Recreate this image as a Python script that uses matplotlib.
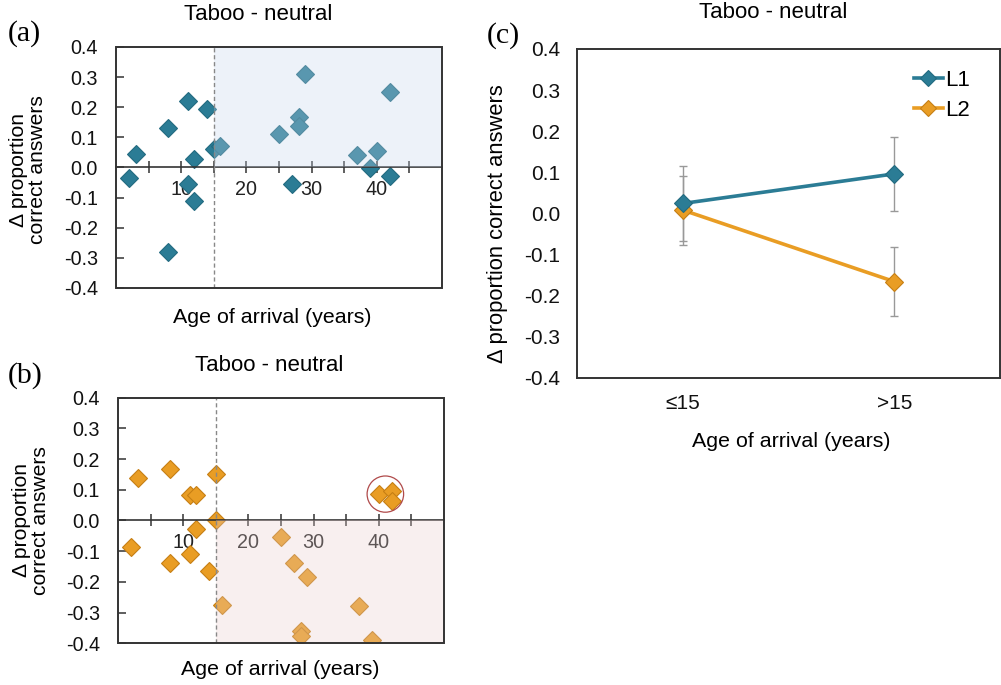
import numpy as np
import matplotlib
matplotlib.use("Agg")
import matplotlib.pyplot as plt
from matplotlib.patches import Rectangle, Ellipse

plt.rcParams["font.family"] = ["Liberation Sans", "DejaVu Sans"]

# ---------------------------------------------------------------------------
# data
# ---------------------------------------------------------------------------
# (a) L1 speakers: age of arrival vs taboo - neutral difference
AGE_A = [2, 3, 8, 8, 11, 11, 12, 12, 14, 15, 16, 25, 27, 28, 28, 29, 37, 39, 40, 42, 42]
DIFF_A = [-0.036, 0.045, 0.13, -0.28, 0.222, -0.056, 0.028, -0.111, 0.194, 0.06,
          0.071, 0.111, -0.056, 0.167, 0.138, 0.31, 0.041, -0.003, 0.055, 0.25, -0.027]

# (b) L2 speakers
AGE_B = [2, 3, 8, 8, 11, 12, 11, 12, 14, 15, 15, 16, 25, 27, 29, 28, 28, 37, 39, 40, 42, 42]
DIFF_B = [-0.085, 0.14, 0.167, -0.138, 0.084, 0.084, -0.11, -0.027, -0.165, 0.15,
          0.0, -0.276, -0.053, -0.137, -0.184, -0.36, -0.375, -0.277, -0.39, 0.086, 0.095, 0.065]

# (c) group means with error bars
GROUPS = ["\u226415", ">15"]
L1_MEAN = [0.024, 0.096]
L1_ERR = [0.091, 0.091]
L2_MEAN = [0.008, -0.166]
L2_ERR = [0.084, 0.083]

CUTOFF = 15
Y_TICKS = [-0.4, -0.3, -0.2, -0.1, 0.0, 0.1, 0.2, 0.3, 0.4]
CIRCLE_CENTER = (41, 0.086)

TEAL = "#2b7c95"
TEAL_EDGE = "#236b80"
ORANGE = "#e99d24"
ORANGE_EDGE = "#c67f14"
SPINE = "#333333"

TITLE = "Taboo - neutral"
XLABEL = "Age of arrival (years)"

fig = plt.figure(figsize=(10.01, 6.85), dpi=100)


def scatter_panel(ax, ages, diffs, face, edge, shade_color, shade_y):
    ax.set_xlim(0, 50)
    ax.set_ylim(-0.4, 0.4)
    ax.plot(ages, diffs, linestyle="none", marker="D", ms=9.5,
            mfc=face, mec=edge, mew=0.8, zorder=2)
    # translucent highlight drawn on top of the markers
    ax.fill_between([CUTOFF, 50], shade_y[0], shade_y[1], color=shade_color,
                    alpha=0.3, lw=0, zorder=3)
    ax.axvline(CUTOFF, color="#888888", lw=1, ls=(0, (3, 2)), zorder=4)

    # x axis crosses at zero, frame drawn as a box
    ax.spines["bottom"].set_position(("data", 0))
    for s in ["left", "top", "right"]:
        ax.spines[s].set_visible(False)
    ax.spines["bottom"].set_color(SPINE)
    ax.spines["bottom"].set_linewidth(1.2)
    ax.add_patch(Rectangle((0, 0), 1, 1, transform=ax.transAxes, fill=False,
                           ec=SPINE, lw=1.4, zorder=5, clip_on=False))

    ax.set_xticks(np.arange(5, 50, 5))
    ax.set_xticklabels(["" if v % 10 else str(v) for v in range(5, 50, 5)])
    ax.tick_params(axis="x", direction="inout", length=8, width=1.1,
                   colors=SPINE, labelsize=14.2, pad=5, labelcolor="#222222")
    ax.set_yticks(Y_TICKS)
    ax.set_yticklabels([f"{v:.1f}" for v in Y_TICKS])
    ax.tick_params(axis="y", direction="in", length=6, width=1.1,
                   colors=SPINE, labelsize=14.2, pad=13, labelcolor="#111111")
    ax.set_ylabel("\u0394 proportion\ncorrect answers", fontsize=15.2, linespacing=1.0)
    ax.set_xlabel(XLABEL, fontsize=15.4)


# ---------------------------------------------------------------------------
# (a)
# ---------------------------------------------------------------------------
ax_a = fig.add_axes([0.1159, 0.5796, 0.3257, 0.3518])
scatter_panel(ax_a, AGE_A, DIFF_A, TEAL, TEAL_EDGE, "#c6d7ee", (0, 0.4))
ax_a.yaxis.set_label_coords(-0.212, 0.49)
ax_a.xaxis.set_label_coords(0.48, -0.083)

# ---------------------------------------------------------------------------
# (b)
# ---------------------------------------------------------------------------
ax_b = fig.add_axes([0.1179, 0.0609, 0.3257, 0.3585])
scatter_panel(ax_b, AGE_B, DIFF_B, ORANGE, ORANGE_EDGE, "#e8cdcd", (-0.4, 0))
ax_b.add_patch(Ellipse(CIRCLE_CENTER, 5.6, 0.118, fill=False, ec="#b04a4a",
                       lw=0.9, zorder=6))
ax_b.yaxis.set_label_coords(-0.209, 0.5)
ax_b.xaxis.set_label_coords(0.497, -0.068)

# ---------------------------------------------------------------------------
# (c)
# ---------------------------------------------------------------------------
ax_c = fig.add_axes([0.5764, 0.4486, 0.4226, 0.4799])
x = np.arange(len(GROUPS))
ax_c.errorbar(x, L1_MEAN, yerr=L1_ERR, fmt="none", ecolor="#999999",
              elinewidth=1, capsize=3, capthick=1, zorder=2)
ax_c.errorbar(x, L2_MEAN, yerr=L2_ERR, fmt="none", ecolor="#999999",
              elinewidth=1, capsize=3, capthick=1, zorder=2)
ax_c.plot(x, L1_MEAN, color=TEAL, lw=2.6, marker="D", ms=9.5,
          mfc=TEAL, mec=TEAL_EDGE, mew=0.8, label="L1", zorder=4)
ax_c.plot(x, L2_MEAN, color=ORANGE, lw=2.6, marker="D", ms=9.5,
          mfc=ORANGE, mec=ORANGE_EDGE, mew=0.8, label="L2", zorder=3)
ax_c.set_xlim(-0.5, 1.5)
ax_c.set_ylim(-0.4, 0.4)
ax_c.set_xticks(x)
ax_c.set_xticklabels(GROUPS)
ax_c.set_yticks(Y_TICKS)
ax_c.set_yticklabels([f"{v:.1f}" for v in Y_TICKS])
ax_c.tick_params(axis="both", length=0, labelsize=15, labelcolor="#111111")
ax_c.tick_params(axis="x", pad=12)
ax_c.tick_params(axis="y", pad=12)
for s in ax_c.spines.values():
    s.set_color(SPINE)
    s.set_linewidth(1.4)
ax_c.set_ylabel("\u0394 proportion correct answers", fontsize=15.8)
ax_c.set_xlabel(XLABEL, fontsize=15.4)
ax_c.yaxis.set_label_coords(-0.163, 0.47)
ax_c.xaxis.set_label_coords(0.507, -0.165)
ax_c.legend(loc="upper right", bbox_to_anchor=(0.955, 0.97), frameon=False,
            fontsize=16, handlelength=1.3, handletextpad=0.1, borderpad=0,
            labelspacing=0.4, markerscale=0.85)

# titles and panel letters
fig.text(258 / 1001, 1 - 15 / 685, TITLE, fontsize=16, ha="center", va="center")
fig.text(269 / 1001, 1 - 366 / 685, TITLE, fontsize=16, ha="center", va="center")
fig.text(773 / 1001, 1 - 13 / 685, TITLE, fontsize=16, ha="center", va="center")
for lbl, px, py in [("(a)", 8, 34), ("(b)", 8, 376), ("(c)", 487, 36)]:
    fig.text(px / 1001, 1 - py / 685, lbl, fontsize=21.5, ha="left", va="center",
             family="Liberation Serif")

fig.savefig("out.png", dpi=100)
